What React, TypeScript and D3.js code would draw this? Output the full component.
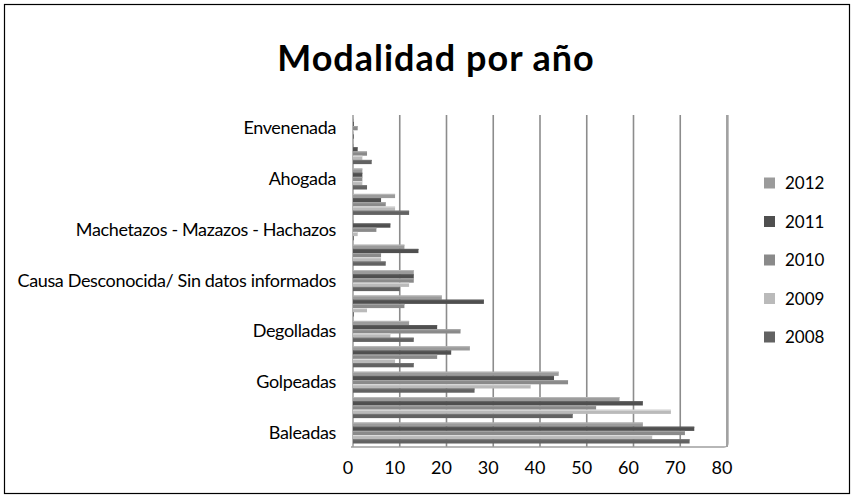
import React from "react";
import * as d3 from "d3";

const categories = [
  "Envenenada",
  "Arrojadas al vacío",
  "Ahogada",
  "Descuartizadas",
  "Machetazos - Mazazos - Hachazos",
  "Asfixiadas",
  "Causa Desconocida/ Sin datos informados",
  "Quemadas",
  "Degolladas",
  "Estranguladas",
  "Golpeadas",
  "Apuñaladas",
  "Baleadas",
];
const shownLabels = [
  "Envenenada",
  "Ahogada",
  "Machetazos - Mazazos - Hachazos",
  "Causa Desconocida/ Sin datos informados",
  "Degolladas",
  "Golpeadas",
  "Baleadas",
];

const seriesNames = ["2012", "2011", "2010", "2009", "2008"];
const v2012 = [0, 0, 2, 9, 0, 11, 13, 19, 12, 25, 44, 57, 62];
const v2011 = [0, 1, 2, 6, 8, 14, 13, 28, 18, 21, 43, 62, 73];
const v2010 = [1, 3, 2, 7, 5, 6, 13, 11, 23, 18, 46, 52, 71];
const v2009 = [0, 2, 2, 9, 1, 6, 12, 3, 8, 9, 38, 68, 64];
const v2008 = [0, 4, 3, 12, 0, 7, 10, 0, 13, 13, 26, 47, 72];
const seriesValues = [v2012, v2011, v2010, v2009, v2008];
const seriesColors = ["#9b9b9b", "#4f4f4f", "#8a8a8a", "#bababa", "#626262"];
const xTicks = [0, 10, 20, 30, 40, 50, 60, 70, 80];

const W = 854;
const H = 498;
const FONT = "Lato, 'Open Sans', sans-serif";

export default function App() {
  const x = d3.scaleLinear().domain([0, 80]).range([353, 727]);
  const y = d3.scaleBand<string>().domain(categories).range([115.5, 445.7]).paddingInner(0).paddingOuter(0);
  const ySub = d3
    .scaleBand<string>()
    .domain(seriesNames)
    .range([0, y.bandwidth()])
    .paddingInner(0)
    .paddingOuter(0.52);

  const plotTop = 115;
  const plotBottom = 447;

  return (
    <svg
      width={W}
      height={H}
      style={{ position: "absolute", left: 0, top: 0, background: "#fff" }}
      fontFamily={FONT}
    >
      <rect x={0} y={0} width={W} height={H} fill="#fff" />
      <rect x={4.5} y={4.5} width={845} height={489} fill="none" stroke="#000" strokeWidth={1.2} />

      <text x={436} y={71} textAnchor="middle" fontSize={36} fontWeight="bold" fill="#000" letterSpacing={1}>
        Modalidad por año
      </text>

      {/* gridlines */}
      {xTicks.map((t) => (
        <line
          key={"g" + t}
          x1={x(t)}
          x2={x(t)}
          y1={plotTop}
          y2={plotBottom}
          stroke="#8c8c8c"
          strokeWidth={t === 0 ? 1.3 : 1.6}
        />
      ))}
      <path
        d={`M${x(0) - 2},${plotBottom} H${x(80) - 3} Q${x(80) + 1},${plotBottom} ${x(80) + 1},${plotBottom - 4} V${plotTop}`}
        fill="none"
        stroke="#a0a0a0"
        strokeWidth={1.3}
      />

      {/* bars */}
      {seriesNames.map((s, si) =>
        categories.map((c, ci) => {
          const v = seriesValues[si][ci];
          const y0 = (y(c) as number) + (ySub(s) as number);
          const h = ySub.bandwidth();
          const w = Math.max(0.8, x(v) - x(0));
          const col = seriesColors[si];
          const light = d3.color(col)!.brighter(0.5).formatHex();
          return (
            <g key={s + c}>
              <rect x={x(0)} y={y0} width={w} height={h} fill={col} />
              <rect x={x(0)} y={y0} width={w} height={1} fill={light} />
            </g>
          );
        })
      )}

      {/* x tick labels */}
      {xTicks.map((t) => (
        <text key={"t" + t} x={x(t) - 5} y={474} textAnchor="middle" fontSize={18} fill="#000">
          {t}
        </text>
      ))}

      {/* category labels */}
      {categories
        .filter((c) => shownLabels.includes(c))
        .map((c) => (
          <text
            key={"c" + c}
            x={336}
            y={(y(c) as number) + y.bandwidth() / 2 + 6}
            textAnchor="end"
            fontSize={18}
            fill="#000"
            letterSpacing={-0.35}
          >
            {c}
          </text>
        ))}

      {/* legend */}
      {seriesNames.map((s, i) => {
        const cy = 183 + i * 38.5;
        return (
          <g key={"l" + s}>
            <rect x={764} y={cy - 5.5} width={11} height={11} fill={seriesColors[i]} />
            <text x={785} y={cy + 6} fontSize={17} fill="#000">
              {s}
            </text>
          </g>
        );
      })}
    </svg>
  );
}
